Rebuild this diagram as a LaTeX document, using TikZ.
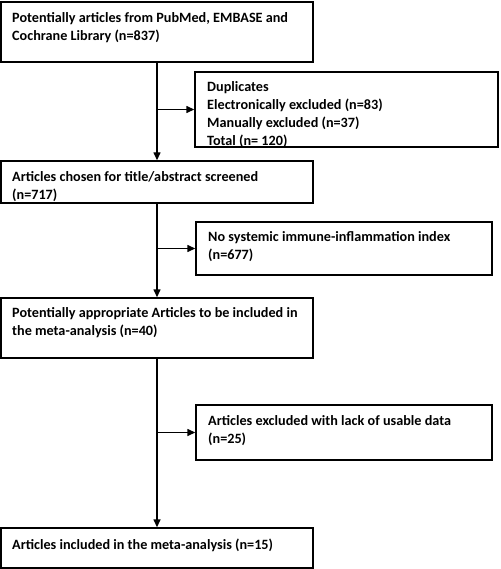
\documentclass[tikz,border=0pt]{standalone}
\usepackage{fontspec}
\setmainfont{Carlito}
\usetikzlibrary{arrows.meta,calc}
\begin{document}
\begin{tikzpicture}[x=1pt,y=-1pt,
  box/.style={draw=black,line width=1.4pt,rectangle,inner sep=0pt,minimum width=#1},
  txt/.style={anchor=base west,inner sep=0pt,align=left,font=\fontsize{14.2}{18}\selectfont\bfseries},
  arr/.style={line width=1.4pt,-{Triangle[length=8pt,width=7pt]}}]
\useasboundingbox (0,0) rectangle (500,569);
\node[box=312pt,minimum height=60pt] (b1) at (157,32) {};
\node[box=303pt,minimum height=75pt] (b2) at (346.5,109.5) {};
\node[box=312pt,minimum height=42pt] (b3) at (157,182) {};
\node[box=296pt,minimum height=53pt] (b4) at (344,248.5) {};
\node[box=312pt,minimum height=60pt] (b5) at (157,328) {};
\node[box=296pt,minimum height=55pt] (b6) at (344,432.5) {};
\node[box=312pt,minimum height=40pt] (b7) at (157,548) {};
\node[txt] (t1) at (12,40.5) {Potentially articles from PubMed, EMBASE and\\Cochrane Library (n=837)};
\node[txt] (t2) at (207,146) {Duplicates\\Electronically excluded (n=83)\\Manually excluded (n=37)\\Total (n= 120)};
\node[txt] (t3) at (12,199.5) {Articles chosen for title/abstract screened\\(n=717)};
\node[txt] (t4) at (208,259.5) {No systemic immune-inflammation index\\(n=677)};
\node[txt] (t5) at (12,335.5) {Potentially appropriate Articles to be included in\\the meta-analysis (n=40)};
\node[txt] (t6) at (208,443.5) {Articles excluded with lack of usable data\\(n=25)};
\node[txt] (t7) at (12,549.5) {Articles included in the meta-analysis (n=15)};
\draw[arr] (b1.south) -- (b3.north);
\draw[arr] (b3.south) -- (b5.north);
\draw[arr] (b5.south) -- (b7.north);
\coordinate (c1) at (b1.south |- b2.west);
\coordinate (c2) at (b3.south |- b4.west);
\coordinate (c3) at (b5.south |- b6.west);
\draw[arr] (c1) -- (b2.west);
\draw[arr] (c2) -- (b4.west);
\draw[arr] (c3) -- (b6.west);
\end{tikzpicture}
\end{document}
